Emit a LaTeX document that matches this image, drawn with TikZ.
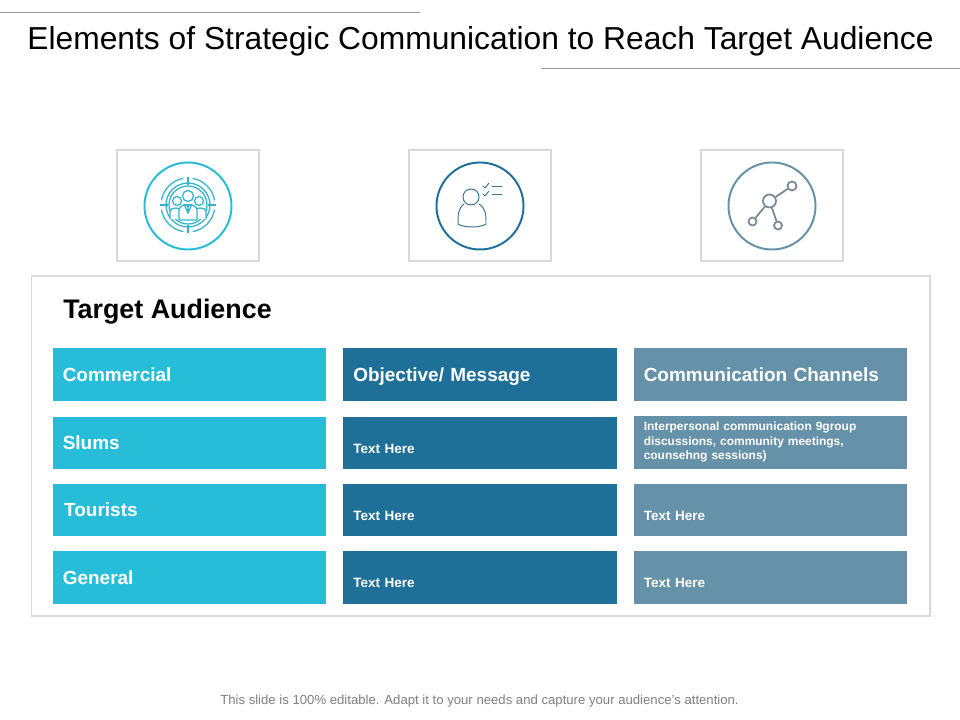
\documentclass[tikz,border=0pt]{standalone}
\usepackage{fontspec}
\setmainfont{Liberation Sans}
\definecolor{cellcyan}{HTML}{27BDD9}
\definecolor{celldark}{HTML}{1F7099}
\definecolor{cellsteel}{HTML}{6592A8}
\definecolor{framegray}{HTML}{D9D9D9}
\definecolor{icongray}{HTML}{7C8C99}
\newcommand{\pxu}{0.7113pt}
\begin{document}
\begin{tikzpicture}[x=0.025cm, y=-0.025cm,
	frame style/.style={rectangle, draw=framegray, line width=1.4pt, inner sep=0pt},
	cell style/.style={rectangle, fill=#1, text=white, font=\bfseries\fontsize{13.5}{15}\selectfont, anchor=north west, minimum width=273*\pxu, align=left, text width=254*\pxu, inner xsep=0pt, minimum height=53*\pxu, text height=9pt, text depth=0pt},
	small style/.style={cell style=#1, font=\bfseries\fontsize{9.6}{11}\selectfont, minimum height=52*\pxu, text height=14pt},
	ring style/.style={draw=#1, line width=1.4pt, circle, minimum size=87*\pxu, inner sep=0pt},
	dot style/.style={draw=icongray, line width=1.3pt, circle, fill=white, minimum size=#1*\pxu, inner sep=0pt},
	rule style/.style={draw=gray!80, line width=0.5pt}]
	\useasboundingbox (0,0) rectangle (960,720);
	% title and rules
	\node[font=\fontsize{22.6}{26}\selectfont, anchor=center] (T) at (480.5,41.5) {Elements of Strategic Communication to Reach Target Audience};
	\coordinate (L1) at (0,12);
	\coordinate (L2) at (420,12);
	\coordinate (L3) at (541,68);
	\coordinate (L4) at (960,68);
	\draw[rule style] (L1) -- (L2);
	\draw[rule style] (L3) -- (L4);
	% icon frames
	\foreach \x/\n/\c in {188/1/cellcyan,480/2/celldark,772/3/cellsteel} {
		\node[frame style, minimum width=142*\pxu, minimum height=111*\pxu] (F\n) at (\x,205.5) {};
		\node[ring style=\c] (R\n) at (\x,206) {};
	}
	% outer frame
	\node[frame style, minimum width=898*\pxu, minimum height=339*\pxu, anchor=north west] (B) at (30.5,275.5) {};
	\node[font=\bfseries\fontsize{19.1}{22}\selectfont, anchor=west, inner sep=0pt] (H) at (63,311.5) {Target Audience};
	% first column
	\node[cell style=cellcyan] (A1) at (53,348) {Commercial};
	\node[cell style=cellcyan, minimum height=52*\pxu] (A2) at (53,417) {Slums};
	\node[cell style=cellcyan, minimum height=52*\pxu] (A3) at (53,484) {\hspace{1pt}Tourists};
	\node[cell style=cellcyan] (A4) at (53,551) {General};
	% second column
	\node[cell style=celldark, minimum width=274*\pxu] (B1) at (343,348) {Objective/ Message};
	\foreach \y/\n in {417/2,484/3}
	\node[small style=celldark, minimum width=274*\pxu] (B\n) at (343,\y) {Text Here};
	\node[small style=celldark, minimum width=274*\pxu, minimum height=53*\pxu] (B4) at (343,551) {Text Here};
	% third column
	\node[cell style=cellsteel] (C1) at (634,348) {Communication Channels};
	\node[cell style=cellsteel, font=\bfseries\fontsize{8.5}{10.3}\selectfont, text height=6pt, text depth=23pt] (C2) at (634,416) {Interpersonal communication 9group\\discussions, community meetings,\\counsehng sessions)};
	\node[small style=cellsteel] (C3) at (634,484) {Text Here};
	\node[small style=cellsteel, minimum height=53*\pxu] (C4) at (634,551) {Text Here};
	% target icon
	\begin{scope}[shift={(188,205)}, draw=cellcyan!85!gray, line width=0.9pt]
		\foreach \a in {10,100,190,280}
		\draw (\a:27) arc (\a:\a+70:27);
		\draw (0,0) circle [radius=22];
		\draw (0,0) circle [radius=19];
		\draw (-28,0) -- (-20,0) (20,0) -- (28,0) (0,-28) -- (0,-20) (0,20) -- (0,28);
		\draw[fill=white] (-11,-4) circle [radius=4.5];
		\draw[fill=white] (11,-4) circle [radius=4.5];
		\draw[fill=white] (-18,14) -- (-18,6) .. controls (-18,2) and (-6,2) .. (-6,6) -- (-6,14);
		\draw[fill=white] (18,14) -- (18,6) .. controls (18,2) and (6,2) .. (6,6) -- (6,14);
		\draw[fill=white] (-9,15) -- (-9,5) .. controls (-9,-2) and (9,-2) .. (9,5) -- (9,15) -- cycle;
		\draw[fill=white] (0,-9) circle [radius=5.5];
		\draw (-4,-1) -- (0,8) -- (4,-1) (-2,-1) -- (0,2) -- (2,-1) (0,2) -- (0,8);
	\end{scope}
	% person icon
	\begin{scope}[draw=celldark!70!gray, line width=0.7pt]
		\draw (471,197) circle [radius=8];
		\draw (464,204) .. controls (458,209) and (458,214) .. (458,224) .. controls (464,228) and (480,228) .. (486,224) .. controls (486,214) and (486,209) .. (479,204);
		\draw (483,186) -- (485,188) -- (489,183);
		\draw (483,194) -- (485,196) -- (489,191);
		\draw (492,186) -- (502,186);
		\draw (492,194) -- (502,194);
	\end{scope}
	% network icon
	\node[dot style=13] (N1) at (769.5,201) {};
	\node[dot style=9] (N2) at (792,186) {};
	\node[dot style=8] (N3) at (752.5,221.5) {};
	\node[dot style=8] (N4) at (778,225.5) {};
	\foreach \n in {2,3,4}
	\draw[draw=icongray, line width=1.3pt] (N1) -- (N\n);
	% footer
	\node[text=gray, font=\fontsize{9.35}{11}\selectfont, anchor=center] (S) at (479.5,701) {This slide is 100\% editable. Adapt it to your needs and capture your audience's attention.};
\end{tikzpicture}
\end{document}
